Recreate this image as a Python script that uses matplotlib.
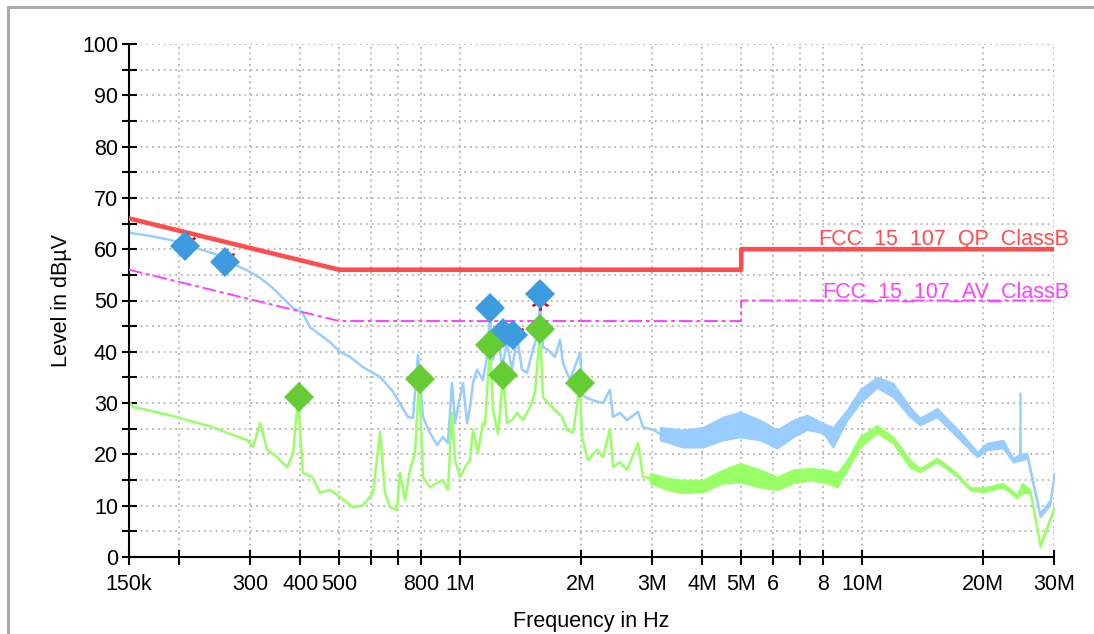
import matplotlib.pyplot as plt
from matplotlib.patches import Rectangle
from matplotlib.ticker import FixedLocator, FixedFormatter, MultipleLocator

plt.rcParams['font.family'] = ['Liberation Sans', 'DejaVu Sans']

# limit lines, frequency in MHz, level in dBuV
qp_limit_f = [0.15, 0.5, 5.0, 5.0, 30.0]
qp_limit_db = [66, 56, 56, 60, 60]
av_limit_f = [0.15, 0.5, 5.0, 5.0, 30.0]
av_limit_db = [56, 46, 46, 50, 50]

# peak (QP preview) trace below 3 MHz
pk_f = [0.150, 0.169, 0.190, 0.207, 0.225, 0.245, 0.283, 0.295, 0.318, 0.342,
        0.384, 0.404, 0.423, 0.474, 0.502, 0.532, 0.573, 0.632, 0.681, 0.741,
        0.763, 0.785, 0.808, 0.841, 0.876, 0.906, 0.932, 0.954, 0.971, 0.987,
        1.016, 1.040, 1.058, 1.076, 1.101, 1.139, 1.166, 1.186, 1.207, 1.242,
        1.270, 1.307, 1.345, 1.385, 1.425, 1.466, 1.509, 1.552, 1.580, 1.607,
        1.653, 1.720, 1.771, 1.802, 1.875, 1.986, 2.020, 2.067, 2.164, 2.266,
        2.358, 2.400, 2.497, 2.600, 2.770, 2.849, 3.018, 3.141]
pk_db = [63.2, 62.6, 61.8, 61.0, 60.0, 59.1, 56.5, 55.9, 54.4, 52.4,
         48.5, 47.8, 44.8, 41.9, 40.0, 39.0, 37.0, 35.1, 32.2, 27.3,
         27.1, 39.4, 27.3, 24.2, 21.8, 23.4, 22.2, 33.9, 26.1, 29.2,
         33.9, 26.1, 29.2, 33.9, 36.5, 34.5, 39.0, 47.5, 38.4, 44.2,
         37.0, 41.7, 36.5, 42.9, 36.5, 35.9, 39.8, 42.9, 49.5, 40.9,
         40.4, 39.0, 42.3, 37.8, 34.5, 39.8, 31.5, 31.0, 30.4, 30.0,
         32.6, 27.3, 28.1, 26.7, 28.3, 25.3, 24.8, 24.0]

# peak trace above 3 MHz: noisy band, upper and lower edge
pk_band_f = [3.141, 3.582, 4.018, 4.505, 4.966, 5.57, 6.14, 6.73, 7.29, 7.99,
             8.46, 9.17, 9.87, 10.88, 11.93, 13.15, 13.92, 15.35, 17.52, 19.31,
             20.43, 22.40, 23.72, 24.60, 24.69, 24.78, 25.70, 27.69, 29.31, 30.0]
pk_band_hi = [25.3, 24.8, 25.3, 27.3, 28.3, 26.7, 24.8, 26.7, 27.7, 26.1,
              25.3, 28.7, 32.6, 35.1, 33.9, 29.2, 27.1, 29.0, 24.4, 20.5,
              22.2, 22.8, 19.3, 20.0, 32.0, 20.0, 20.3, 8.6, 11.1, 16.4]
pk_band_lo = [22.8, 21.4, 21.4, 22.8, 23.4, 22.8, 21.2, 23.4, 24.8, 24.2,
              21.4, 26.7, 30.0, 33.0, 31.2, 27.3, 25.7, 27.3, 22.8, 19.5,
              20.9, 21.2, 18.5, 18.8, 18.8, 18.8, 19.3, 7.8, 10.1, 15.6]

# average trace below 3 MHz
av_f = [0.150, 0.1535, 0.166, 0.197, 0.209, 0.243, 0.263, 0.295, 0.305, 0.318,
        0.331, 0.350, 0.371, 0.384, 0.395, 0.406, 0.428, 0.448, 0.474, 0.502,
        0.541, 0.573, 0.607, 0.632, 0.650, 0.669, 0.696, 0.708, 0.729, 0.750,
        0.772, 0.790, 0.808, 0.841, 0.876, 0.906, 0.932, 0.954, 0.971, 0.999,
        1.028, 1.058, 1.076, 1.107, 1.139, 1.152, 1.186, 1.207, 1.242, 1.278,
        1.307, 1.345, 1.385, 1.433, 1.491, 1.535, 1.580, 1.607, 1.653, 1.720,
        1.791, 1.843, 1.908, 1.986, 2.009, 2.079, 2.189, 2.266, 2.358, 2.400,
        2.497, 2.600, 2.770, 2.849, 2.966]
av_db = [30.4, 29.2, 28.7, 27.3, 26.7, 25.3, 24.2, 22.8, 21.4, 26.1,
         20.9, 19.5, 17.5, 20.3, 31.0, 16.4, 15.6, 12.5, 13.1, 11.7,
         9.7, 10.1, 12.5, 24.4, 12.5, 9.7, 9.2, 16.4, 11.1, 17.0,
         20.3, 34.5, 15.6, 13.6, 14.4, 15.0, 13.1, 28.1, 18.9, 15.6,
         17.5, 18.9, 24.8, 20.3, 26.1, 25.7, 41.0, 28.7, 24.0, 35.3,
         26.1, 26.7, 28.1, 26.7, 29.2, 32.0, 44.2, 31.2, 30.0, 28.7,
         27.3, 24.8, 24.2, 33.7, 23.4, 18.9, 20.9, 19.5, 25.0, 17.5,
         18.5, 17.0, 22.2, 15.6, 15.4]

# average trace above 3 MHz: noisy band
av_band_f = [2.966, 3.270, 3.582, 4.018, 4.505, 4.966, 5.57, 6.14, 6.73, 7.41,
             8.18, 8.66, 9.17, 9.87, 10.88, 11.93, 13.15, 13.92, 15.35, 16.82,
             18.54, 19.98, 22.40, 24.27, 24.98, 26.15, 27.69, 30.0]
av_band_hi = [16.4, 15.4, 15.0, 15.0, 17.0, 18.3, 17.0, 15.6, 17.0, 17.3,
              17.0, 16.4, 18.9, 23.4, 25.7, 23.4, 18.9, 17.3, 19.3, 17.0,
              13.6, 13.5, 14.4, 12.1, 14.4, 13.1, 2.7, 9.7]
av_band_lo = [14.4, 13.1, 12.5, 12.7, 14.4, 14.6, 13.6, 13.1, 14.4, 15.0,
              14.4, 13.6, 17.0, 21.4, 24.2, 22.2, 17.5, 16.6, 18.5, 16.4,
              13.1, 12.7, 13.6, 11.5, 12.5, 12.5, 1.9, 9.2]

# markers
qp_mark_f = [0.207, 0.260, 1.186, 1.278, 1.353, 1.580]
qp_mark_db = [60.6, 57.5, 48.5, 43.7, 43.3, 51.3]
qp_final_f = [0.209, 0.262, 1.196, 1.290, 1.366, 1.580]
qp_final_db = [61.4, 58.3, 48.8, 44.0, 43.6, 49.9]
av_mark_f = [0.397, 0.794, 1.186, 1.278, 1.580, 1.986]
av_mark_db = [31.2, 34.7, 41.3, 35.5, 44.4, 33.9]
av_final_f = [0.400, 0.800, 1.196, 1.290, 1.594, 2.000]
av_final_db = [31.6, 35.1, 41.3, 35.5, 44.4, 33.9]

tick_f = [0.15, 0.2, 0.3, 0.4, 0.5, 0.6, 0.7, 0.8, 1, 2, 3, 4, 5, 6, 7, 8, 10, 20, 30]
tick_lbl = ['150k', '', '300', '400', '500', '', '', '800', '1M', '2M', '3M',
            '4M', '5M', '6', '', '8', '10M', '20M', '30M']

RED = '#ff4d4d'
MAG = '#ff40ff'
BLUE_LINE = '#99ccff'
GREEN_LINE = '#99ff66'

fig = plt.figure(figsize=(10.94, 6.34), dpi=100)
ax = fig.add_axes([129 / 1094, 1 - 557 / 634, 925 / 1094, 513 / 634])

fig.patches.append(Rectangle((8 / 1094, -0.2), 2, 1.2 - 7 / 634, transform=fig.transFigure,
                             fill=False, edgecolor='#aaaaaa', lw=2.2))

ax.set_xscale('log')
ax.set_xlim(0.15, 30)
ax.set_ylim(0, 100)

# traces
ax.plot(pk_f, pk_db, color=BLUE_LINE, lw=1.8, zorder=2)
ax.fill_between(pk_band_f, pk_band_lo, pk_band_hi, color=BLUE_LINE, lw=1.2, zorder=2)
ax.plot(av_f, av_db, color=GREEN_LINE, lw=1.8, zorder=2.1)
ax.fill_between(av_band_f, av_band_lo, av_band_hi, color=GREEN_LINE, lw=1.2, zorder=2.1)

# limits
ax.plot(qp_limit_f, qp_limit_db, color=RED, lw=3.3, zorder=3)
ax.plot(av_limit_f, av_limit_db, color=MAG, lw=1.4, ls=(0, (7, 2, 2, 2)), zorder=3)

# final measurement marks and markers
ax.plot(qp_final_f, qp_final_db, ls='none', marker=(6, 2, 0), ms=13, mew=1.6, color='red', zorder=4)
ax.plot(av_final_f, av_final_db, ls='none', marker=(6, 2, 0), ms=11, mew=1.4, color='#0000ff', zorder=4)
ax.plot(qp_mark_f, qp_mark_db, ls='none', marker='D', ms=15, color='#3d9be0', mew=0, zorder=5)
ax.plot(av_mark_f, av_mark_db, ls='none', marker='D', ms=15, color='#66cc33', mew=0, zorder=5)

ax.annotate('FCC_15_107_QP_ClassB', xy=(30, 60), xytext=(11, 3.3), textcoords='offset points',
            ha='right', va='baseline', color=RED, fontsize=15.5, zorder=1)
ax.annotate('FCC_15_107_AV_ClassB', xy=(30, 50), xytext=(11, 2.3), textcoords='offset points',
            ha='right', va='baseline', color=MAG, fontsize=15.5, zorder=1)

# axes styling
ax.xaxis.set_major_locator(FixedLocator(tick_f))
ax.xaxis.set_major_formatter(FixedFormatter(tick_lbl))
ax.xaxis.set_minor_locator(FixedLocator([]))
ax.yaxis.set_major_locator(MultipleLocator(10))
ax.yaxis.set_minor_locator(MultipleLocator(5))

ax.tick_params(axis='both', which='both', direction='inout', length=10.8, width=1.5,
               color='black', labelsize=15.5)
ax.tick_params(axis='y', pad=2.5)
ax.tick_params(axis='x', pad=7)

for s in ['top', 'right']:
    ax.spines[s].set_visible(False)
for s in ['left', 'bottom']:
    ax.spines[s].set_linewidth(1.5)

ax.grid(axis='x', which='major', color='#b3b3b3', ls=(0, (1, 2.2)), lw=1.3, zorder=0)
ax.grid(axis='y', which='both', color='#b3b3b3', ls=(0, (1, 2.2)), lw=1.3, zorder=0)
ax.set_axisbelow(True)

ax.set_xlabel('Frequency in Hz', fontsize=15.5)
ax.set_ylabel('Level in dBµV', fontsize=15.5)
ax.xaxis.set_label_coords(0.5, -0.105)
ax.yaxis.set_label_coords(-0.062, 0.5)

fig.savefig('out.png', dpi=100)
